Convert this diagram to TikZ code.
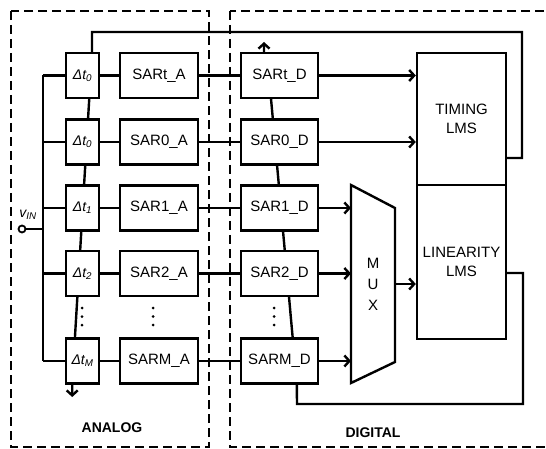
\documentclass[tikz,border=0pt]{standalone}
\usepackage{fontspec}
\setmainfont{Liberation Sans}
\usetikzlibrary{arrows.meta,backgrounds,calc}
\begin{document}
\begin{tikzpicture}[x=1pt,y=-1pt,
  every node/.style={font=\fontsize{15}{19}\selectfont},
  blk/.style={draw,line width=2.4pt,fill=white,minimum height=45pt,inner sep=0pt},
  dl/.style={blk,minimum width=33pt,font=\fontsize{14}{16}\selectfont\itshape},
  sa/.style={blk,minimum width=78pt},
  sd/.style={blk,minimum width=77pt},
  lms/.style={draw,line width=2.4pt,fill=white,minimum width=89pt,inner sep=0pt,align=center},
  wire/.style={line width=2.4pt},
  arr/.style={wire,-{Straight Barb[length=5pt,width=11pt]}},
  region/.style={dash pattern=on 9pt off 5pt,line width=1.2pt},
  dotc/.style={fill=black},
  lbl/.style={font=\bfseries\fontsize{14}{16}\selectfont},
  ]
\useasboundingbox (0,0) rectangle (546,449);

% regions
\draw[region] (11,11) rectangle (209,447);
\draw[region] (230,11) rectangle (560,447);

% delay cells
\node[dl] (d0) at (82.5,75.5) {Δt\textsubscript{0}};
\node[dl] (d1) at (82.5,142) {Δt\textsubscript{0}};
\node[dl] (d2) at (82.5,208) {Δt\textsubscript{1}};
\node[dl] (d3) at (82.5,273.5) {Δt\textsubscript{2}};
\node[dl] (d4) at (82.5,361) {Δt\textsubscript{M}};

% analog SARs
\node[sa] (a0) at (159,75.5) {SARt\_A};
\node[sa] (a1) at (159,142) {SAR0\_A};
\node[sa] (a2) at (159,208) {SAR1\_A};
\node[sa] (a3) at (159,273.5) {SAR2\_A};
\node[sa] (a4) at (159,361) {SARM\_A};

% digital SARs
\node[sd] (s0) at (279.5,75.5) {SARt\_D};
\node[sd] (s1) at (279.5,142) {SAR0\_D};
\node[sd] (s2) at (279.5,208) {SAR1\_D};
\node[sd] (s3) at (279.5,273.5) {SAR2\_D};
\node[sd] (s4) at (279.5,361) {SARM\_D};

% LMS blocks
\node[lms,minimum height=132pt] (tlms) at (461.5,119) {TIMING\\LMS};
\node[lms,minimum height=154pt] (llms) at (461.5,262) {LINEARITY\\LMS};

% MUX
\coordinate (m1) at (351,185);
\coordinate (m2) at (395,208);
\coordinate (m3) at (395,362);
\coordinate (m4) at (351,383);
\draw[wire,fill=white,line join=miter] (m1) -- (m2) -- (m3) -- (m4) -- cycle;
\node[align=center,font=\fontsize{15}{21}\selectfont] (mux) at (373,284) {M\\U\\X};
\coordinate (muxo) at (395,284);

% input
\coordinate (bus) at (43,0);
\node[circle,draw,line width=1.8pt,fill=white,inner sep=0pt,minimum size=7pt] (vin) at (22,229) {};
\node[font=\fontsize{14}{16}\selectfont\itshape] (vlab) at (28,215) {v\textsubscript{IN}};

% feedback endpoints
\coordinate (fbt) at (506,158);
\coordinate (fbl) at (506,273);

\begin{pgfonlayer}{background}
  % timing feedback into delay chain
  \draw[arr] (fbt) -- (522,158) -- (522,32) -- (92,32) -- (92,53) -- (72.2,383) -- (72.2,397);
  % linearity feedback into digital chain
  \draw[arr] (fbl) -- (523,273) -- (523,404) -- (297,404) -- (296.8,383) -- (267.5,60) -- (264,55) -- (264,42);
  % input bus
  \draw[wire] (vin) -- (vin -| bus);
  \draw[wire] (d0.west -| bus) -- (d4.west -| bus);
\end{pgfonlayer}

\foreach \i in {0,...,4}{
  \draw[wire] (d\i.west -| bus) -- (d\i.west);
  \draw[wire] (d\i.east) -- (a\i.west);
  \draw[wire] (a\i.east) -- (s\i.west);
}
\draw[arr] (s0.east) -- (s0.east -| tlms.west);
\draw[arr] (s1.east) -- (s1.east -| tlms.west);
\draw[arr] (s2.east) -- (s2.east -| m1);
\draw[arr] (s3.east) -- (s3.east -| m1);
\draw[arr] (s4.east) -- (s4.east -| m1);
\draw[arr] (muxo) -- (muxo -| llms.west);

% ellipsis dots
\foreach \x in {82,153,274}{
  \foreach \y in {308,316.5,325}{
    \fill[dotc] (\x,\y) circle (1.5pt);
  }
}

% region labels
\node[lbl] (an) at (112,428) {ANALOG};
\node[lbl] (dg) at (373,433) {DIGITAL};
\end{tikzpicture}
\end{document}
